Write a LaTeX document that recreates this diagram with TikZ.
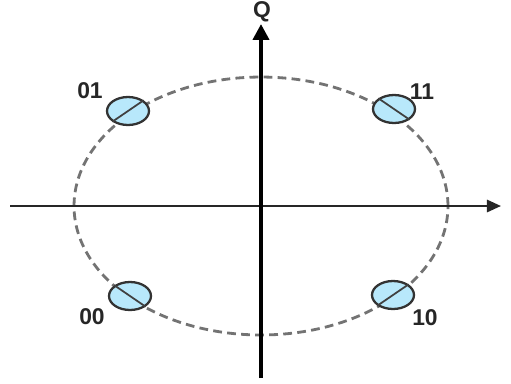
\documentclass[tikz,border=0pt]{standalone}
\usepackage{fontspec}
\setsansfont{Liberation Sans}
\usetikzlibrary{arrows.meta,shapes.geometric}

\begin{document}
\begin{tikzpicture}[x=0.02cm,y=-0.02cm,
  symbol/.style={ellipse,draw=black!80,line width=1.3pt,fill=cyan!28!white,
    minimum width=0.84cm,minimum height=0.56cm,inner sep=0pt},
  bits/.style={font=\sffamily\bfseries\fontsize{13}{15}\selectfont,text=black!85}]

\useasboundingbox (0,0) rectangle (511,383);

% Origin and axis ends
\coordinate (O) at (261,206);
\coordinate (Iwest) at (10,206);
\coordinate (Ieast) at (501,206);
\coordinate (Qsouth) at (261,378);
\coordinate (Qnorth) at (261,24);

% Circle
\draw[black!55,line width=1.6pt,dash pattern=on 5pt off 3pt] (O) ellipse [x radius=3.74cm,y radius=2.58cm];

% Axes
\draw[black!85,line width=1.2pt,-{Triangle[length=8pt,width=7pt]}] (Iwest) -- (Ieast);
\draw[black,line width=2.2pt,-{Triangle[length=9pt,width=9pt]}] (Qsouth) -- (Qnorth);

% Symbols
\node[symbol] (s01) at (128,111) {};
\node[symbol] (s11) at (394,109) {};
\node[symbol] (s00) at (130,296) {};
\node[symbol] (s10) at (393,295) {};
\draw[black!75,line width=1pt] (s01.south west) -- (s01.north east);
\draw[black!75,line width=1pt] (s11.north west) -- (s11.south east);
\draw[black!75,line width=1pt] (s00.north west) -- (s00.south east);
\draw[black!75,line width=1pt] (s10.south west) -- (s10.north east);

% Labels
\node[bits] (l01) at (90,91) {01};
\node[bits] (l11) at (422,92) {11};
\node[bits] (l00) at (92,317) {00};
\node[bits] (l10) at (425,318) {10};
\node[bits] (lQ) at (262,12) {Q};

\end{tikzpicture}
\end{document}
